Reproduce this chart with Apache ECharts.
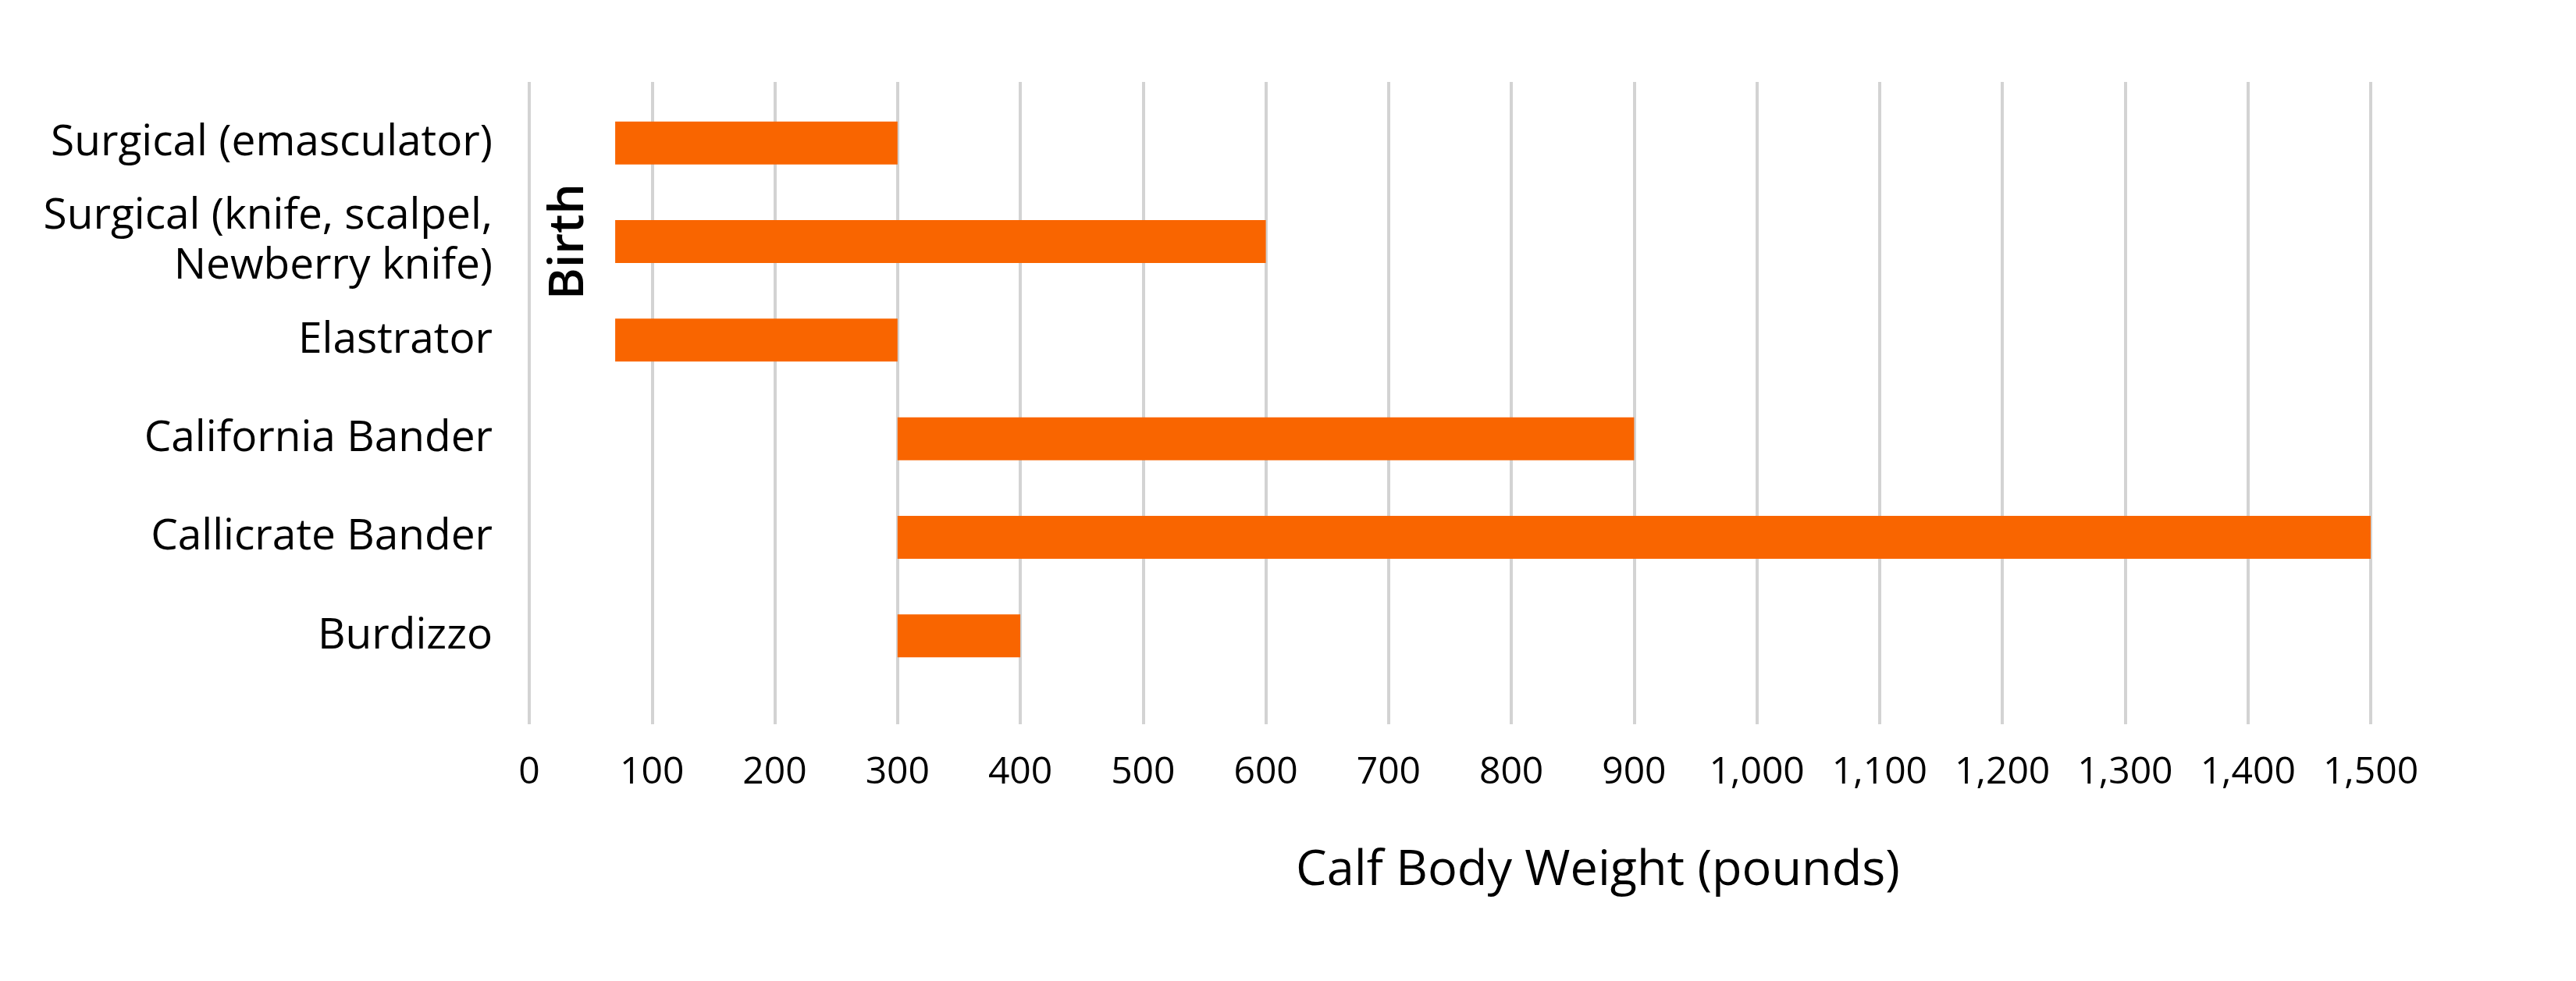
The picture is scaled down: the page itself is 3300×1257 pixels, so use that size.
<!DOCTYPE html>
<html>
<head>
<meta charset="utf-8">
<script src="https://cdn.jsdelivr.net/npm/echarts@6/dist/echarts.min.js"></script>
<style>
html,body{margin:0;padding:0;background:#fff;}
#chart{width:3300px;height:1257px;}
</style>
</head>
<body>
<div id="chart"></div>
<script>
const categories = [
  "Surgical (emasculator)",
  "Surgical (knife, scalpel,\nNewberry knife)",
  "Elastrator",
  "California Bander",
  "Callicrate Bander",
  "Burdizzo"
];
const startWeights = [70, 70, 70, 300, 300, 300];
const endWeights = [300, 600, 300, 900, 1500, 400];
const xTicks = [0, 1500, 100];
const birthLabel = "Birth";
const birthPosition = [40, 1];
const axisTitle = "Calf Body Weight (pounds)";

const FONT = "'Open Sans', sans-serif";
const ORANGE = "#F96500";

const chart = echarts.init(document.getElementById('chart'));
chart.setOption({
  backgroundColor: '#ffffff',
  animation: false,
  title: {
    text: axisTitle,
    left: 2042,
    top: 1080,
    textAlign: 'center',
    textStyle: { fontFamily: FONT, fontSize: 63, fontWeight: 500, color: '#000' }
  },
  grid: [
    { left: 678, right: 263, top: 105, bottom: 329 },
    { left: 678, right: 263, top: 120, bottom: 379 }
  ],
  xAxis: [
    {
      gridIndex: 0, type: 'value', min: xTicks[0], max: xTicks[1], interval: xTicks[2],
      axisLine: { show: false }, axisTick: { show: false },
      splitLine: { show: true, lineStyle: { color: '#D3D3D3', width: 4 } },
      axisLabel: {
        fontFamily: FONT, fontSize: 48, fontWeight: 500, color: '#000', margin: 38,
        formatter: v => v.toLocaleString('en-US')
      }
    },
    {
      gridIndex: 1, type: 'value', min: xTicks[0], max: xTicks[1], interval: xTicks[2], show: false
    }
  ],
  yAxis: [
    { gridIndex: 0, type: 'value', show: false },
    {
      gridIndex: 1, type: 'category', data: categories, inverse: true,
      axisLine: { show: false }, axisTick: { show: false }, splitLine: { show: false },
      axisLabel: { fontFamily: FONT, fontSize: 55, fontWeight: 500, color: '#000', margin: 47, lineHeight: 64, align: 'right' }
    }
  ],
  series: [
    {
      type: 'bar', xAxisIndex: 1, yAxisIndex: 1, stack: 'range', silent: true,
      barWidth: 55,
      itemStyle: { color: 'rgba(0,0,0,0)' },
      data: startWeights
    },
    {
      type: 'bar', xAxisIndex: 1, yAxisIndex: 1, stack: 'range',
      barWidth: 55,
      itemStyle: { color: ORANGE },
      data: endWeights.map((e, i) => e - startWeights[i]),
      markPoint: {
        symbol: 'circle', symbolSize: 0,
        data: [{ coord: birthPosition, value: birthLabel }],
        label: {
          show: true, formatter: birthLabel, rotate: 90, position: 'inside',
          offset: [0, -12],
          fontFamily: FONT, fontSize: 62, fontWeight: 600, color: '#000'
        }
      }
    }
  ]
});
</script>
</body>
</html>
